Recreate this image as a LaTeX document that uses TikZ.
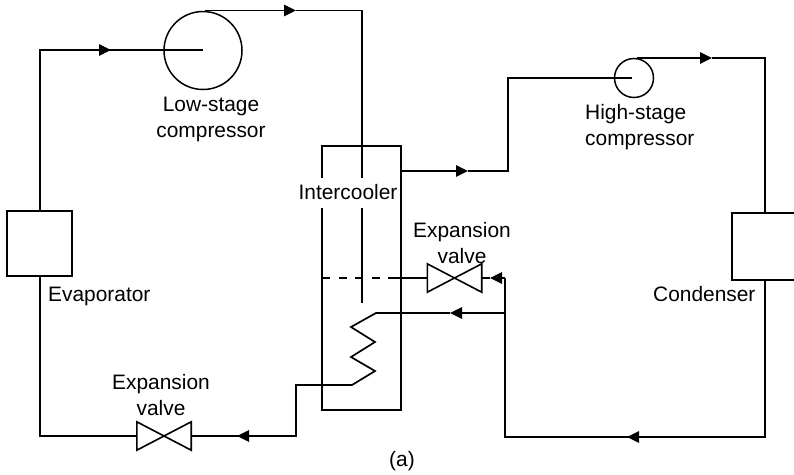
\documentclass[tikz,border=0pt]{standalone}
\usepackage{fontspec}
\setmainfont{Liberation Sans}
\usetikzlibrary{arrows.meta}
\tikzset{
  x=1pt,y=-1pt,
  pipe/.style={draw=black,line width=1.7pt,line join=miter},
  flow/.style={pipe,-{Triangle[length=12pt,width=11.5pt]}},
  hx/.style={draw=black,line width=1.7pt,fill=white,rectangle,inner sep=0pt},
  comp/.style={draw=black,line width=1.5pt,circle,inner sep=0pt},
  valvebox/.style={rectangle,inner sep=0pt,minimum width=54pt,minimum height=28pt},
  lbl/.style={font=\fontsize{20.9}{26}\selectfont,inner sep=0pt,align=center},
  lbll/.style={lbl,align=left},
  bow/.style={draw=black,line width=1.6pt,line join=miter},
}
\begin{document}
\begin{tikzpicture}
\useasboundingbox (0,0) rectangle (794,474);
\clip (0,0) rectangle (794,474);
% junction and bend coordinates
\coordinate (evT) at (40,50);
\coordinate (lowIn) at (203,50);
\coordinate (lowTip) at (111,50);
\coordinate (lowOut) at (205,10.5);
\coordinate (lowOutTip) at (296,10.5);
\coordinate (dropTop) at (362,10.5);
\coordinate (dropEnd) at (362,303);
\coordinate (icOut) at (401,171);
\coordinate (icOutTip) at (468,171);
\coordinate (riseB) at (508,171);
\coordinate (riseT) at (508,78);
\coordinate (highIn) at (632,78);
\coordinate (highOut) at (637,58);
\coordinate (highTip) at (712,58);
\coordinate (condT) at (765,58);
\coordinate (condBot) at (765,437);
\coordinate (retTip) at (627,437);
\coordinate (retL) at (505,437);
\coordinate (retU) at (505,278);
\coordinate (vTip) at (490,278);
\coordinate (j) at (505,313);
\coordinate (cTip) at (450,313);
\coordinate (c0) at (376,313);
\coordinate (c1) at (351,327);
\coordinate (c2) at (375,342);
\coordinate (c3) at (351,357);
\coordinate (c4) at (375,371);
\coordinate (c5) at (352,385);
\coordinate (d1) at (296,385);
\coordinate (d2) at (296,436);
\coordinate (dTip) at (237,436);
\coordinate (evB) at (40,436);
\coordinate (dashL) at (322,278);
\coordinate (dashR) at (396,278);
% components
\node[comp,minimum size=78pt] (low) at (203,50.5) {};
\node[comp,minimum size=39pt] (high) at (634,78) {};
\node[hx,minimum width=65pt,minimum height=65pt] (evap) at (39.5,243.5) {};
\node[hx,minimum width=80pt,minimum height=67pt,anchor=north west] (cond) at (731,212) {};
\node[valvebox] (v1) at (164,436) {};
\node[valvebox] (v2) at (454.5,278) {};
\foreach \v in {v1,v2}
  \draw[bow] (\v.north west) -- (\v.south east) -- (\v.north east) -- (\v.south west) -- cycle;
% intercooler vessel
\coordinate (icTL) at (322,146);
\coordinate (icTR) at (401,146);
\coordinate (icBL) at (322,410);
\coordinate (icBR) at (401,410);
\draw[pipe] (icBL) -- (icTL) -- (icTR) -- (icBR) -- cycle;
% circuits
\draw[pipe] (evap.north -| evT) -- (evT) -- (lowIn);
\draw[flow] (evT) -- (lowTip);
\draw[flow] (lowOut) -- (lowOutTip);
\draw[pipe] (lowOutTip) -- (dropTop) -- (dropEnd);
\draw[flow] (icOut) -- (icOutTip);
\draw[pipe] (icOutTip) -- (riseB) -- (riseT) -- (highIn);
\draw[flow] (highOut) -- (highTip);
\draw[pipe] (highTip) -- (condT) -- (cond.north -| condT);
\draw[pipe] (cond.south -| condT) -- (condBot) -- (retTip);
\draw[flow] (condBot) -- (retTip);
\draw[pipe] (retTip) -- (retL) -- (retU);
\draw[flow] (retU) -- (vTip);
\draw[pipe] (vTip) -- (v2.east);
\draw[flow] (j) -- (cTip);
\draw[pipe] (cTip) -- (c0) -- (c1) -- (c2) -- (c3) -- (c4) -- (c5) -- (d1) -- (d2) -- (dTip);
\draw[flow] (d2) -- (dTip);
\draw[pipe] (dTip) -- (v1.east);
\draw[pipe] (v1.west) -- (evB) -- (evap.south -| evB);
\draw[pipe] (v2.west) -- (dashR);
\draw[pipe,dash pattern=on 8pt off 8.5pt] (dashL) -- (dashR);
% labels
\node[lbl,fill=white,minimum height=30pt,inner xsep=2pt] (ic) at (348,192.5) {Intercooler};
\node[lbl] (lowL) at (211,119) {Low-stage\\compressor};
\node[lbll,anchor=west] (highL) at (585,127) {High-stage\\compressor};
\node[lbll,anchor=west] (evL) at (48,296) {Evaporator};
\node[lbll,anchor=west] (condL) at (653,294) {Condenser};
\node[lbl] (ex2) at (462,243) {Expansion\\valve};
\node[lbl] (ex1) at (161,395) {Expansion\\valve};
\node[lbl] (cap) at (402,461) {(a)};
\end{tikzpicture}
\end{document}
